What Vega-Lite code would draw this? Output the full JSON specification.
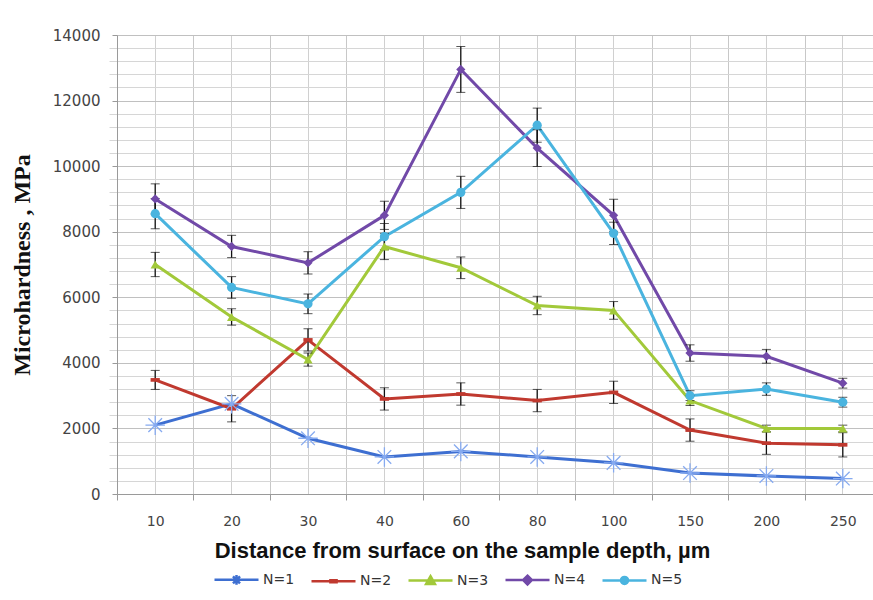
{
  "$schema": "https://vega.github.io/schema/vega-lite/v6.json",
  "width": 756,
  "height": 459,
  "autosize": {"type": "none"},
  "padding": {"left": 117, "top": 35, "right": 0, "bottom": 106},
  "background": "white",
  "config": {"view": {"stroke": null}, "font": "DejaVu Sans"},
  "data": {
    "values": [
      {"series": "N=1", "depth": 10, "value": 2100, "err": null},
      {"series": "N=1", "depth": 20, "value": 2750, "err": null},
      {"series": "N=1", "depth": 30, "value": 1700, "err": null},
      {"series": "N=1", "depth": 40, "value": 1130, "err": null},
      {"series": "N=1", "depth": 60, "value": 1300, "err": null},
      {"series": "N=1", "depth": 80, "value": 1130, "err": null},
      {"series": "N=1", "depth": 100, "value": 950, "err": null},
      {"series": "N=1", "depth": 150, "value": 640, "err": null},
      {"series": "N=1", "depth": 200, "value": 550, "err": null},
      {"series": "N=1", "depth": 250, "value": 470, "err": null},
      {"series": "N=2", "depth": 10, "value": 3480, "err": 290},
      {"series": "N=2", "depth": 20, "value": 2600, "err": 400},
      {"series": "N=2", "depth": 30, "value": 4700, "err": 340},
      {"series": "N=2", "depth": 40, "value": 2900, "err": 340},
      {"series": "N=2", "depth": 60, "value": 3050, "err": 340},
      {"series": "N=2", "depth": 80, "value": 2850, "err": 340},
      {"series": "N=2", "depth": 100, "value": 3100, "err": 340},
      {"series": "N=2", "depth": 150, "value": 1950, "err": 340},
      {"series": "N=2", "depth": 200, "value": 1550, "err": 340},
      {"series": "N=2", "depth": 250, "value": 1500, "err": 370},
      {"series": "N=3", "depth": 10, "value": 7000, "err": 370},
      {"series": "N=3", "depth": 20, "value": 5400, "err": 250},
      {"series": "N=3", "depth": 30, "value": 4100, "err": 200},
      {"series": "N=3", "depth": 40, "value": 7550, "err": 400},
      {"series": "N=3", "depth": 60, "value": 6900, "err": 330},
      {"series": "N=3", "depth": 80, "value": 5750, "err": 280},
      {"series": "N=3", "depth": 100, "value": 5600, "err": 270},
      {"series": "N=3", "depth": 150, "value": 2850, "err": 150},
      {"series": "N=3", "depth": 200, "value": 2000, "err": 100},
      {"series": "N=3", "depth": 250, "value": 2000, "err": 100},
      {"series": "N=4", "depth": 10, "value": 9000, "err": 460},
      {"series": "N=4", "depth": 20, "value": 7550, "err": 340},
      {"series": "N=4", "depth": 30, "value": 7050, "err": 340},
      {"series": "N=4", "depth": 40, "value": 8500, "err": 430},
      {"series": "N=4", "depth": 60, "value": 12950, "err": 700},
      {"series": "N=4", "depth": 80, "value": 10550, "err": 560},
      {"series": "N=4", "depth": 100, "value": 8500, "err": 490},
      {"series": "N=4", "depth": 150, "value": 4300, "err": 250},
      {"series": "N=4", "depth": 200, "value": 4200, "err": 210},
      {"series": "N=4", "depth": 250, "value": 3380, "err": 150},
      {"series": "N=5", "depth": 10, "value": 8550, "err": 460},
      {"series": "N=5", "depth": 20, "value": 6300, "err": 330},
      {"series": "N=5", "depth": 30, "value": 5800, "err": 300},
      {"series": "N=5", "depth": 40, "value": 7850, "err": 400},
      {"series": "N=5", "depth": 60, "value": 9200, "err": 490},
      {"series": "N=5", "depth": 80, "value": 11250, "err": 520},
      {"series": "N=5", "depth": 100, "value": 7950, "err": 340},
      {"series": "N=5", "depth": 150, "value": 3000, "err": 150},
      {"series": "N=5", "depth": 200, "value": 3200, "err": 190},
      {"series": "N=5", "depth": 250, "value": 2800, "err": 150}
    ]
  },
  "layer": [
    {
      "mark": {"type": "line", "strokeWidth": 3},
      "encoding": {
        "x": {
          "field": "depth", "type": "ordinal",
          "scale": {"type": "band", "domain": [10, 20, 30, 40, 60, 80, 100, 150, 200, 250], "range": [0, 764], "paddingInner": 0, "paddingOuter": 0},
          "axis": {
            "tickBand": "extent", "grid": true, "gridColor": "#c8c8c8", "domainColor": "#9a9a9a", "tickColor": "#9a9a9a", "tickSize": 6,
            "labelFont": "DejaVu Sans", "labelFontSize": 14, "labelColor": "#444444", "labelPadding": 14, "labelAngle": 0,
            "title": "Distance from surface on the sample depth, µm", "titleFont": "Liberation Sans", "titleFontSize": 22, "titleFontWeight": "bold", "titleColor": "#111111", "titlePadding": 12, "titleX": 345
          }
        },
        "y": {
          "field": "value", "type": "quantitative",
          "scale": {"domain": [0, 14000], "nice": false, "zero": true},
          "axis": {
            "values": [0, 2000, 4000, 6000, 8000, 10000, 12000, 14000], "format": "d", "grid": true, "gridColor": "#c0c0c0", "domainColor": "#9a9a9a", "tickColor": "#9a9a9a", "tickSize": 5,
            "labelFont": "DejaVu Sans", "labelFontSize": 15, "labelColor": "#444444", "labelPadding": 12,
            "title": "Microhardness , MPa", "titleFont": "Liberation Serif", "titleFontSize": 24, "titleFontWeight": "bold", "titleColor": "#111111", "titlePadding": 18
          }
        },
        "color": {
          "field": "series", "type": "nominal",
          "scale": {"domain": ["N=1", "N=2", "N=3", "N=4", "N=5"], "range": ["#3e6fd1", "#c0392f", "#a2c93a", "#7149a8", "#4ab4df"]},
          "legend": null
        }
      }
    },
    {
      "transform": [{"filter": "isValid(datum.err)"}],
      "mark": {"type": "errorbar", "ticks": {"size": 9, "color": "#111111", "strokeWidth": 1.6}, "rule": {"color": "#111111", "strokeWidth": 1.3}},
      "encoding": {
        "x": {"field": "depth", "type": "ordinal", "axis": {"orient": "top", "grid": true, "gridColor": "#d0d0d0", "domain": false, "ticks": false, "labels": false, "title": null}},
        "y": {"field": "value", "type": "quantitative", "axis": {"orient": "right", "values": [400, 800, 1200, 1600, 2400, 2800, 3200, 3600, 4400, 4800, 5200, 5600, 6400, 6800, 7200, 7600, 8400, 8800, 9200, 9600, 10400, 10800, 11200, 11600, 12400, 12800, 13200, 13600], "grid": true, "gridColor": "#d6d6d6", "domain": false, "ticks": false, "labels": false, "title": null}},
        "yError": {"field": "err"}
      }
    },
    {
      "transform": [{"filter": "datum.series != 'N=1'"}],
      "mark": {"type": "point", "filled": true, "size": 85, "opacity": 1},
      "encoding": {
        "x": {"field": "depth", "type": "ordinal", "axis": null},
        "y": {"field": "value", "type": "quantitative", "axis": null},
        "color": {"field": "series", "type": "nominal", "legend": null},
        "shape": {
          "field": "series", "type": "nominal",
          "scale": {"domain": ["N=2", "N=3", "N=4", "N=5"], "range": ["M-1,-0.4L1,-0.4L1,0.4L-1,0.4Z", "triangle-up", "diamond", "circle"]},
          "legend": null
        }
      }
    },
    {
      "transform": [{"filter": "datum.series == 'N=1'"}],
      "mark": {"type": "point", "filled": false, "size": 380, "stroke": "#86aaf0", "strokeWidth": 1.3, "opacity": 1, "shape": "M-1,0L1,0M0,-1L0,1M-0.7,-0.7L0.7,0.7M-0.7,0.7L0.7,-0.7"},
      "encoding": {
        "x": {"field": "depth", "type": "ordinal", "axis": null},
        "y": {"field": "value", "type": "quantitative", "axis": null}
      }
    },
    {
      "transform": [{"filter": "datum.depth < 0"}],
      "mark": {"type": "point", "filled": false, "strokeWidth": 2.5, "opacity": 1},
      "encoding": {
        "x": {"field": "depth", "type": "ordinal", "axis": null},
        "y": {"field": "value", "type": "quantitative", "axis": null},
        "shape": {
          "field": "series", "type": "nominal",
          "scale": {"domain": ["N=1", "N=2", "N=3", "N=4", "N=5"], "range": [
            "M-1,0L1,0M-0.22,0L0.22,0M0,-0.22L0,0.22M-0.16,-0.16L0.16,0.16M-0.16,0.16L0.16,-0.16",
            "M-1,0L1,0M-0.14,-0.05L0.14,-0.05L0.14,0.05L-0.14,0.05Z",
            "M-1,0L1,0M0,-0.2L0.2,0.15L-0.2,0.15ZM0,-0.06L0.08,0.09L-0.08,0.09Z",
            "M-1,0L1,0M0,-0.2L0.2,0L0,0.2L-0.2,0ZM0,-0.08L0.08,0L0,0.08L-0.08,0Z",
            "M-1,0L1,0M-0.16,0A0.16,0.16,0,1,1,0.16,0A0.16,0.16,0,1,1,-0.16,0ZM-0.06,0A0.06,0.06,0,1,1,0.06,0A0.06,0.06,0,1,1,-0.06,0Z"
          ]},
          "legend": {"title": null, "orient": "none", "legendX": 96, "legendY": 521, "direction": "horizontal", "columns": 5, "symbolSize": 1936, "symbolStrokeWidth": 2.5, "labelFont": "DejaVu Sans", "labelFontSize": 14, "labelColor": "#333333", "labelOffset": 3, "columnPadding": 11}
        },
        "color": {
          "field": "series", "type": "nominal",
          "legend": {"title": null, "orient": "none", "legendX": 96, "legendY": 521, "direction": "horizontal", "columns": 5, "symbolSize": 1936, "symbolStrokeWidth": 2.5, "labelFont": "DejaVu Sans", "labelFontSize": 14, "labelColor": "#333333", "labelOffset": 3, "columnPadding": 11}
        }
      }
    }
  ],
  "resolve": {"axis": {"x": "independent", "y": "independent"}, "scale": {"shape": "independent"}, "legend": {"color": "independent", "shape": "independent"}}
}
